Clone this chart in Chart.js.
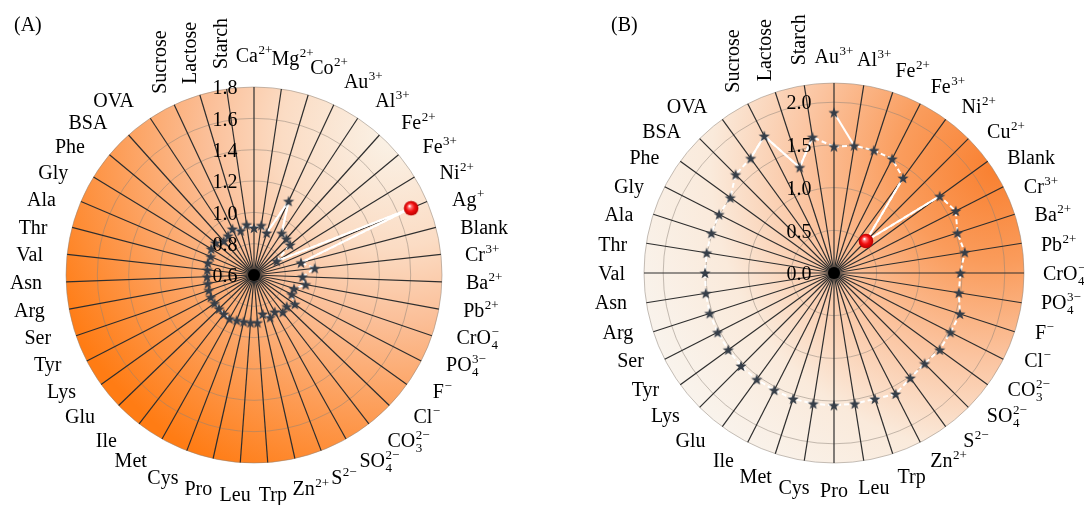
<!DOCTYPE html>
<html>
<head>
<meta charset="utf-8">
<script src="https://cdn.jsdelivr.net/npm/chart.js@4.4.1/dist/chart.umd.min.js"></script>
<style>
  html, body { margin: 0; padding: 0; background: #ffffff; }
  body { width: 1084px; height: 505px; position: relative; overflow: hidden; }
  .panel { position: absolute; top: 0; width: 542px; height: 505px; }
  #panelA { left: 0; }
  #panelB { left: 542px; }
</style>
</head>
<body>
<div class="panel" id="panelA"><canvas id="chartA"></canvas></div>
<div class="panel" id="panelB"><canvas id="chartB"></canvas></div>
<script>
// ---- data -----------------------------------------------------------------
// ^{..} marks a superscript, _{..} a subscript
const labelsA = ['Ca^{2+}', 'Mg^{2+}', 'Co^{2+}', 'Au^{3+}', 'Al^{3+}', 'Fe^{2+}', 'Fe^{3+}', 'Ni^{2+}', 'Ag^{+}', 'Blank',
  'Cr^{3+}', 'Ba^{2+}', 'Pb^{2+}', 'CrO_{4}^{\u2212}', 'PO_{4}^{3\u2212}', 'F^{\u2212}', 'Cl^{\u2212}', 'CO_{3}^{2\u2212}', 'SO_{4}^{2\u2212}', 'S^{2\u2212}',
  'Zn^{2+}', 'Trp', 'Leu', 'Pro', 'Cys', 'Met', 'Ile', 'Glu', 'Lys', 'Tyr',
  'Ser', 'Arg', 'Asn', 'Val', 'Thr', 'Ala', 'Gly', 'Phe', 'BSA', 'OVA',
  'Sucrose', 'Lactose', 'Starch'];
const valuesA = [0.90, 0.92, 0.88, 1.12, 0.92, 0.91, 0.90, 0.77, 1.69, 0.91,
  0.99, 0.91, 0.935, 0.87, 0.87, 0.92, 0.89, 0.90, 0.87, 0.89,
  0.855, 0.905, 0.905, 0.905, 0.91, 0.92, 0.915, 0.91, 0.91, 0.91,
  0.905, 0.90, 0.90, 0.90, 0.905, 0.90, 0.92, 0.92, 0.89, 0.90,
  0.925, 0.895, 0.925];
const ticksA = [0.6, 0.8, 1.0, 1.2, 1.4, 1.6, 1.8];
const highlightA = 'Ag^{+}';

const labelsB = ['Au^{3+}', 'Al^{3+}', 'Fe^{2+}', 'Fe^{3+}', 'Ni^{2+}', 'Cu^{2+}', 'Blank', 'Cr^{3+}', 'Ba^{2+}', 'Pb^{2+}',
  'CrO_{4}^{\u2212}', 'PO_{4}^{3\u2212}', 'F^{\u2212}', 'Cl^{\u2212}', 'CO_{3}^{2\u2212}', 'SO_{4}^{2\u2212}', 'S^{2\u2212}', 'Zn^{2+}', 'Trp', 'Leu',
  'Pro', 'Cys', 'Met', 'Ile', 'Glu', 'Lys', 'Tyr', 'Ser', 'Arg', 'Asn',
  'Val', 'Thr', 'Ala', 'Gly', 'Phe', 'BSA', 'OVA', 'Sucrose', 'Lactose', 'Starch'];
const valuesB = [1.88, 1.51, 1.51, 1.50, 1.375, 0.53, 1.53, 1.60, 1.52, 1.55,
  1.48, 1.48, 1.55, 1.53, 1.53, 1.50, 1.52, 1.59, 1.55, 1.55,
  1.55, 1.55, 1.55, 1.54, 1.54, 1.54, 1.53, 1.53, 1.53, 1.52,
  1.51, 1.51, 1.51, 1.51, 1.50, 1.63, 1.66, 1.80, 1.30, 1.61];
const repeatB = 1.48;            // second Au³⁺ reading, closes the trace
const ticksB = [0.0, 0.5, 1.0, 1.5, 2.0];
const highlightB = 'Cu^{2+}';

// ---- styling ----------------------------------------------------------------
const SERIF = '"Liberation Serif", "Times New Roman", serif';
const FONT_BASE = '20px ' + SERIF;
const FONT_SCRIPT = '13px ' + SERIF;
const VERTICAL = ['Sucrose', 'Lactose', 'Starch'];

function makeStar() {
  const c = document.createElement('canvas');
  c.width = 14; c.height = 14;
  const g = c.getContext('2d');
  g.translate(7, 7.5);
  g.beginPath();
  for (let k = 0; k < 10; k++) {
    const rr = k % 2 ? 2.4 : 5.9;
    const a = -Math.PI / 2 + k * Math.PI / 5;
    g.lineTo(rr * Math.cos(a), rr * Math.sin(a));
  }
  g.closePath();
  g.fillStyle = '#363e48';
  g.fill();
  return c;
}
function makeBall() {
  const c = document.createElement('canvas');
  c.width = 16; c.height = 16;
  const g = c.getContext('2d');
  const gr = g.createRadialGradient(6.3, 5.8, 0.4, 8, 8, 7.4);
  gr.addColorStop(0, '#ffffff');
  gr.addColorStop(0.2, '#ff7070');
  gr.addColorStop(0.55, '#f20f0f');
  gr.addColorStop(1, '#b80000');
  g.fillStyle = gr;
  g.beginPath();
  g.arc(8, 8, 7.3, 0, Math.PI * 2);
  g.fill();
  return c;
}
const STAR = makeStar();
const BALL = makeBall();

// rich label: base text with stacked sub/superscripts
function parseLabel(s) {
  const parts = [];
  const re = /([^_^]+)|_\{([^}]*)\}|\^\{([^}]*)\}/g;
  let m;
  while ((m = re.exec(s))) {
    if (m[1] !== undefined) parts.push({ t: m[1] });
    else if (m[2] !== undefined) parts.push({ sub: m[2] });
    else {
      const last = parts[parts.length - 1];
      if (last && last.sub !== undefined && last.sup === undefined) last.sup = m[3];
      else parts.push({ sup: m[3] });
    }
  }
  return parts;
}
function richWidth(ctx, parts) {
  let w = 0;
  for (const p of parts) {
    if (p.t !== undefined) { ctx.font = FONT_BASE; w += ctx.measureText(p.t).width; }
    else {
      ctx.font = FONT_SCRIPT;
      const a = p.sub ? ctx.measureText(p.sub).width : 0;
      const b = p.sup ? ctx.measureText(p.sup).width : 0;
      w += Math.max(a, b) + 0.5;
    }
  }
  return w;
}
function drawRich(ctx, parts, w, cx, cy) {
  let x = cx - w / 2;
  const base = cy + 7;
  ctx.textAlign = 'left';
  ctx.textBaseline = 'alphabetic';
  for (const p of parts) {
    if (p.t !== undefined) {
      ctx.font = FONT_BASE;
      ctx.fillText(p.t, x, base);
      x += ctx.measureText(p.t).width;
    } else {
      ctx.font = FONT_SCRIPT;
      let adv = 0;
      if (p.sub) { ctx.fillText(p.sub, x + 0.5, base + 5); adv = Math.max(adv, ctx.measureText(p.sub).width); }
      if (p.sup) { ctx.fillText(p.sup, x + 0.5, base - 8); adv = Math.max(adv, ctx.measureText(p.sup).width); }
      x += adv + 0.5;
    }
  }
}

// background disc, centre hub, category labels, tick labels and panel tag
function decorPlugin(o) {
  return {
    id: 'decor',
    beforeDraw(chart) {
      const s = chart.scales.r, ctx = chart.ctx;
      const cx = s.xCenter, cy = s.yCenter, r = s.drawingArea;
      const fx = cx + o.focus[0] * r, fy = cy + o.focus[1] * r;
      const g = ctx.createRadialGradient(fx, fy, 0, fx, fy, o.focus[2] * r);
      o.stops.forEach(([t, c]) => g.addColorStop(t, c));
      ctx.save();
      ctx.beginPath();
      ctx.arc(cx, cy, r, 0, Math.PI * 2);
      ctx.fillStyle = g;
      ctx.fill();
      ctx.restore();
    },
    afterDatasetsDraw(chart) {
      const s = chart.scales.r, ctx = chart.ctx;
      ctx.save();
      ctx.beginPath();
      ctx.arc(s.xCenter, s.yCenter, 6, 0, Math.PI * 2);
      ctx.fillStyle = '#000';
      ctx.fill();
      ctx.restore();
    },
    afterDraw(chart) {
      const s = chart.scales.r, ctx = chart.ctx;
      const cx = s.xCenter, cy = s.yCenter, r = s.drawingArea;
      const labels = chart.data.labels;
      const n = labels.length;
      ctx.save();
      ctx.fillStyle = '#000';
      labels.forEach((lab, i) => {
        const a = s.getIndexAngle(i);
        if (VERTICAL.includes(lab)) {
          const x = cx + o.vertR * Math.sin(a);
          const y0 = cy - (r * Math.cos(a) + (i === n - 1 ? 20 : 11));
          ctx.save();
          ctx.translate(x, y0);
          ctx.rotate(-Math.PI / 2);
          ctx.font = FONT_BASE;
          ctx.textAlign = 'left';
          ctx.textBaseline = 'middle';
          ctx.fillText(lab, 0, 0);
          ctx.restore();
        } else {
          const parts = parseLabel(lab);
          const w = richWidth(ctx, parts);
          const th = a + 4 * Math.PI / 180 * Math.sin(2 * a);
          const R0 = r + o.labelGap;
          const sx = Math.sin(th), cy2 = Math.cos(th);
          const lx = cx + (R0 + w / 2) * sx;
          const ly = cy - (R0 + 8) * cy2;
          drawRich(ctx, parts, w, lx, ly);
        }
      });
      // tick labels
      ctx.font = FONT_BASE;
      ctx.textAlign = 'center';
      ctx.textBaseline = 'middle';
      o.ticks.forEach(v => {
        const d = s.getDistanceFromCenterForValue(v);
        ctx.fillText(v.toFixed(1), cx + o.tickDx, cy - d + 2);
      });
      // panel tag
      ctx.textAlign = 'left';
      ctx.fillText(o.tag, o.tagPos[0], o.tagPos[1]);
      ctx.restore();
    }
  };
}

function buildChart(canvasId, d) {
  const idx = name => d.labels.indexOf(name);
  const hi = idx(d.highlight);
  const datasets = [];
  // markers (drawn on top)
  datasets.push({
    data: d.values,
    showLine: false,
    pointStyle: c => (c.dataIndex === hi ? BALL : STAR),
    pointRadius: 5,
    pointHoverRadius: 5,
    pointBorderWidth: 0,
    borderColor: 'rgba(0,0,0,0)',
    backgroundColor: 'rgba(0,0,0,0)'
  });
  const ring = d.values.slice();
  if (d.repeat !== undefined) {
    ring[0] = d.repeat;
    datasets.push({
      data: d.labels.map((_, i) => (i === 0 ? d.repeat : null)),
      showLine: false,
      pointStyle: STAR,
      pointRadius: 5,
      pointHoverRadius: 5,
      pointBorderWidth: 0,
      borderColor: 'rgba(0,0,0,0)',
      backgroundColor: 'rgba(0,0,0,0)'
    });
  }
  // solid white runs
  d.solidRuns.forEach(([a, b]) => {
    const ia = idx(a), ib = idx(b);
    datasets.push({
      data: d.values.map((v, i) => (i >= ia && i <= ib ? v : null)),
      borderColor: '#ffffff',
      borderWidth: 2,
      pointRadius: 0,
      pointHoverRadius: 0,
      fill: false,
      spanGaps: false
    });
  });
  // dashed white trace
  datasets.push({
    data: ring,
    borderColor: '#ffffff',
    borderWidth: 2,
    borderDash: [5, 3],
    pointRadius: 0,
    pointHoverRadius: 0,
    fill: false
  });

  return new Chart(document.getElementById(canvasId), {
    type: 'radar',
    data: { labels: d.labels, datasets },
    options: {
      responsive: true,
      maintainAspectRatio: false,
      devicePixelRatio: 1,
      animation: false,
      events: [],
      layout: { padding: d.padding },
      elements: { line: { tension: 0, borderJoinStyle: 'round' } },
      plugins: { legend: { display: false }, tooltip: { enabled: false } },
      scales: {
        r: {
          min: d.min,
          max: d.max,
          startAngle: 0,
          ticks: { display: false, stepSize: d.step },
          pointLabels: { display: false },
          grid: { circular: true, color: 'rgba(140,130,120,0.5)', lineWidth: 1 },
          angleLines: { display: true, color: '#2e2e2e', lineWidth: 1.2 }
        }
      }
    },
    plugins: [decorPlugin(d.decor)]
  });
}

buildChart('chartA', {
  labels: labelsA, values: valuesA, highlight: highlightA,
  min: 0.6, max: 1.8, step: 0.2,
  solidRuns: [['Co^{2+}', 'Al^{3+}'], ['Ni^{2+}', 'Blank']],
  padding: { left: 66.5, right: 99.5, top: 87, bottom: 42 },
  decor: {
    focus: [0.75, -0.75, 2.0],
    stops: [[0, '#faf3e8'], [0.3, '#fbdcc4'], [0.5, '#fbbf98'], [0.75, '#fd9c55'], [1, '#ff7c14']],
    labelGap: 24, vertR: 220, tickDx: -29,
    ticks: ticksA, tag: '(A)', tagPos: [14, 26]
  }
});

buildChart('chartB', {
  labels: labelsB, values: valuesB, highlight: highlightB, repeat: repeatB,
  min: 0, max: 2.225, step: 0.5,
  solidRuns: [['OVA', 'Starch'], ['Au^{3+}', 'Al^{3+}'], ['Ni^{2+}', 'Blank']],
  padding: { left: 102.7, right: 59.3, top: 83.3, bottom: 41.7 },
  decor: {
    focus: [0.85, -0.55, 2.0],
    stops: [[0, '#f98030'], [0.25, '#fa9c5c'], [0.5, '#fbc4a0'], [0.75, '#faeadb'], [1, '#f9f3ec']],
    labelGap: 19, vertR: 220, tickDx: -35,
    ticks: ticksB, tag: '(B)', tagPos: [69, 26]
  }
});
</script>
</body>
</html>
